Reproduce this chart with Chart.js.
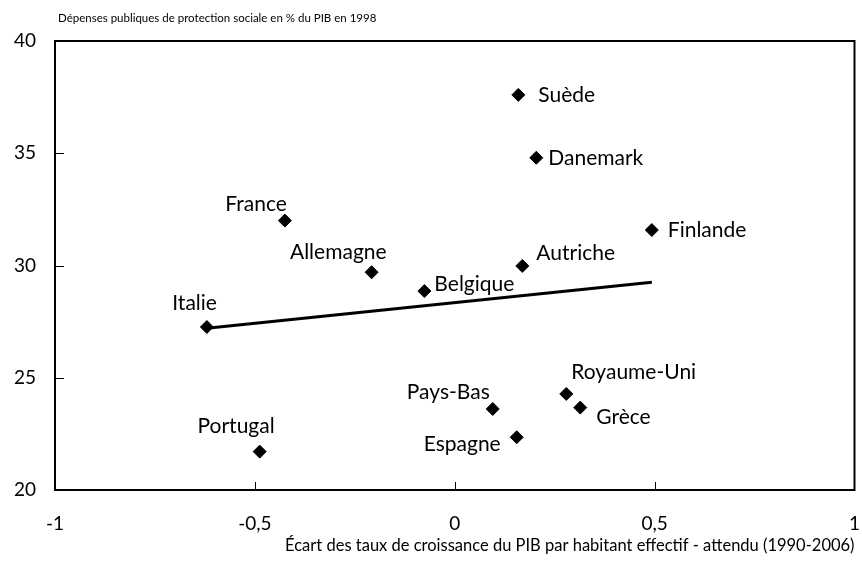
<!DOCTYPE html>
<html>
<head>
<meta charset="utf-8">
<script src="https://cdn.jsdelivr.net/npm/chart.js@4.4.0/dist/chart.umd.min.js"></script>
<style>
  body { margin: 0; background: #fff; }
  #wrap { width: 862px; height: 571px; }
</style>
</head>
<body>
<div id="wrap"><canvas id="c"></canvas></div>
<script>
// Pays et valeurs
const countries = ['France', 'Allemagne', 'Italie', 'Belgique', 'Suède', 'Danemark', 'Finlande',
    'Autriche', 'Royaume-Uni', 'Grèce', 'Pays-Bas', 'Espagne', 'Portugal'];
const growthGap = [-0.425, -0.208, -0.62, -0.076, 0.159, 0.204, 0.493, 0.169, 0.279, 0.314, 0.095, 0.155, -0.488];
const socialSpending = [32.0, 29.7, 27.26, 28.86, 37.6, 34.8, 31.58, 29.98, 24.28, 23.67, 23.61, 22.35, 21.71];
// droite de tendance (extrémités lues)
const trendX = [-0.62, 0.493];
const trendY = [27.2, 29.25];
const xTicks = [-1, -0.5, 0, 0.5, 1];
const yTicks = [20, 25, 30, 35, 40];

const topTitle = 'Dépenses publiques de protection sociale en % du PIB en 1998';
const xTitle = 'Écart des taux de croissance du PIB par habitant effectif - attendu (1990-2006)';

const FONT = 'Lato, "Open Sans", sans-serif';

// placement des étiquettes autour des points
const labelPlace = {
    'France': [2, -16, 'right'],
    'Allemagne': [15, -20, 'right'],
    'Italie': [10, -24, 'right'],
    'Belgique': [10, -7, 'left'],
    'Suède': [20, 0, 'left'],
    'Danemark': [12, 0, 'left'],
    'Finlande': [16, 0, 'left'],
    'Autriche': [14, -13, 'left'],
    'Royaume-Uni': [5, -22, 'left'],
    'Grèce': [16, 10, 'left'],
    'Pays-Bas': [-3, -17, 'right'],
    'Espagne': [-16, 7, 'right'],
    'Portugal': [15, -25, 'right']
};

const fmt = v => String(v).replace('.', ',');

const framePlugin = {
    id: 'frame',
    afterDatasetsDraw(chart) {
        const { ctx, chartArea: a, scales } = chart;
        ctx.save();
        ctx.strokeStyle = '#000';
        ctx.lineWidth = 2;
        ctx.strokeRect(a.left, a.top, a.right - a.left, a.bottom - a.top);
        ctx.lineWidth = 1;
        ctx.beginPath();
        [-0.5, 0, 0.5].forEach(v => {
            const x = Math.round(scales.x.getPixelForValue(v)) + 0.5;
            ctx.moveTo(x, a.bottom);
            ctx.lineTo(x, a.bottom - 8);
        });
        [25, 30, 35].forEach(v => {
            const y = Math.round(scales.y.getPixelForValue(v)) + 0.5;
            ctx.moveTo(a.left, y);
            ctx.lineTo(a.left + 9, y);
        });
        ctx.stroke();

        // étiquettes des pays
        ctx.fillStyle = '#000';
        ctx.font = '21px ' + FONT;
        ctx.textBaseline = 'middle';
        const meta = chart.getDatasetMeta(0);
        meta.data.forEach((pt, i) => {
            const p = labelPlace[countries[i]];
            ctx.textAlign = p[2];
            ctx.fillText(countries[i], pt.x + p[0], pt.y + p[1]);
        });

        // titre du haut
        ctx.font = '11.5px ' + FONT;
        ctx.textAlign = 'left';
        ctx.fillText(topTitle, a.left + 3, 18);
        ctx.restore();
    }
};

new Chart(document.getElementById('c'), {
    data: {
        datasets: [{
            type: 'scatter',
            data: growthGap.map((x, i) => ({ x: x, y: socialSpending[i] })),
            pointStyle: 'rectRot',
            pointRadius: 6.5,
            backgroundColor: '#000',
            borderColor: '#000'
        }, {
            type: 'line',
            data: trendX.map((x, i) => ({ x: x, y: trendY[i] })),
            borderColor: '#000',
            borderWidth: 3,
            pointRadius: 0,
            fill: false
        }]
    },
    options: {
        responsive: true,
        maintainAspectRatio: false,
        animation: false,
        layout: { padding: { top: 41, right: 5, left: 0, bottom: 0 } },
        plugins: { legend: { display: false }, tooltip: { enabled: false } },
        scales: {
            x: {
                type: 'linear',
                min: -1, max: 1,
                afterBuildTicks: s => { s.ticks = xTicks.map(v => ({ value: v })); },
                afterFit: s => { s.height = 81; s.paddingLeft = 0; s.paddingRight = 0; },
                grid: { display: false, drawTicks: false },
                border: { display: false },
                ticks: {
                    color: '#000', padding: 22,
                    font: { family: FONT, size: 19 },
                    callback: v => fmt(v)
                },
                title: {
                    display: true, text: xTitle, align: 'end', color: '#000',
                    font: { family: FONT, size: 16.5 },
                    padding: { top: 0, bottom: 15 }
                }
            },
            y: {
                type: 'linear',
                min: 20, max: 40,
                afterBuildTicks: s => { s.ticks = yTicks.map(v => ({ value: v })); },
                afterFit: s => { s.width = 55; },
                grid: { display: false, drawTicks: false },
                border: { display: false },
                ticks: {
                    color: '#000', padding: 19,
                    font: { family: FONT, size: 19 },
                    callback: v => fmt(v)
                }
            }
        }
    },
    plugins: [framePlugin]
});
</script>
</body>
</html>
